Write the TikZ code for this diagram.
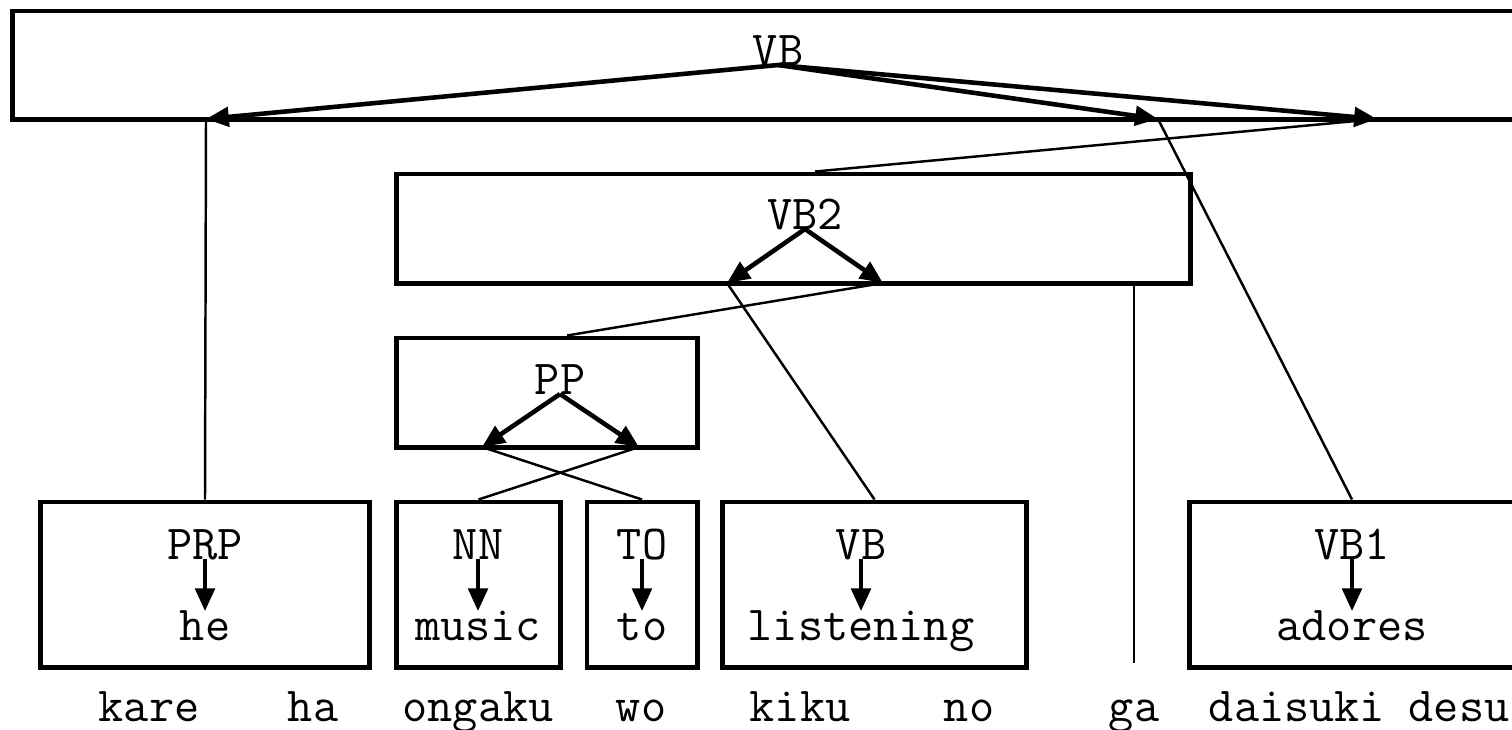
\documentclass[tikz,border=0pt]{standalone}
\usepackage{fontspec}
\usetikzlibrary{arrows.meta}
\def\phrases{{(786,65)/vb/15.46cm/1.08cm/VB/(778,65)}, {(793.5,228.5)/vb2/7.93cm/1.09cm/VB2/(805,229)}, {(547,392.5)/pp/3.00cm/1.09cm/PP/(560,394)}}
\def\leaves{205/prp/3.28cm/205/PRP/he, 478.5/nn/1.63cm/478/NN/music, 642/to/1.10cm/642/TO/to, 874.5/vbl/3.03cm/861/VB/listening, 1355/vb1/3.30cm/1352/VB1/adores}
\def\gloss{149/kare, 313/ha, 478/ongaku, 641/wo, 800/kiku, 969/no, 1134/ga, 1297/daisuki, 1459/desu}
\def\tips{{(206,119)/vb-a}, {(1158,119)/vb-b}, {(1377,119)/vb-c}, {(727,283)/vb2-a}, {(883,283)/vb2-b}, {(482,447)/pp-a}, {(639,447)/pp-b}}
\tikzstyle{box} = [draw, line width=1.4pt, rectangle, inner sep=0pt]
\tikzstyle{tag} = [inner sep=0pt, anchor=base, font=\ttfamily\fontsize{13.9}{16}\selectfont]
\tikzstyle{word} = [tag, text height=8pt]
\tikzstyle{head} = [draw, line width=1.3pt, -{Triangle[length=6.5pt,width=5.5pt]}]
\tikzstyle{link} = [draw, line width=0.7pt, -]
\begin{document}
\begin{tikzpicture}[x=0.01cm, y=-0.01cm]
  \useasboundingbox (0,0) rectangle (1512,729);
  \clip (0,0) rectangle (1512,729);

  % The phrase boxes
  \foreach \pos/\name/\boxw/\boxh/\lab/\tpos in \phrases {
    \node[box, minimum width=\boxw, minimum height=\boxh] (\name) at \pos {};
    \node[tag] (\name-t) at \tpos {\lab};
  }
  % the leaves with their words
  \foreach \cx/\name/\boxw/\tx/\lab/\word in \leaves {
    \node[box, minimum width=\boxw, minimum height=1.65cm] (\name) at (\cx,584.5) {};
    \node[tag] (\name-t) at (\tx,559) {\lab};
    \node[word] (\name-w) at (\tx,640) {\word};
    \draw[head] (\name-t.base) -- (\name-w.north);
  }
  % the japanese words
  \foreach \x/\name in \gloss {
    \node[word] (\name) at (\x,721) {\name};
  }

  % The arrow tips on the box edges
  \foreach \pos/\name in \tips {
    \node[coordinate] (\name) at \pos {};
  }
  \foreach \src/\dst in {vb/vb-a, vb/vb-b, vb/vb-c, vb2/vb2-a, vb2/vb2-b, pp/pp-a, pp/pp-b} {
    \draw[head] (\src-t.base) -- (\dst);
  }

  % The links down to the children
  \foreach \src/\dst in {vb-a/prp, vb2-a/vbl, pp-a/to, pp-b/nn} {
    \path[link] (\src) -- (\dst.north);
  }
  \path[link] (vb-b) -- (vb1-t |- vb1.north);
  \path[link] (vb-c) -- ([xshift=0.1cm]vb2-t |- vb2.north);
  \path[link] (vb2-b) -- ([xshift=0.07cm]pp-t |- pp.north);
  \path[link, shorten >=8.3pt] (vb2.south -| ga.north) -- (ga.north);
\end{tikzpicture}
\end{document}
